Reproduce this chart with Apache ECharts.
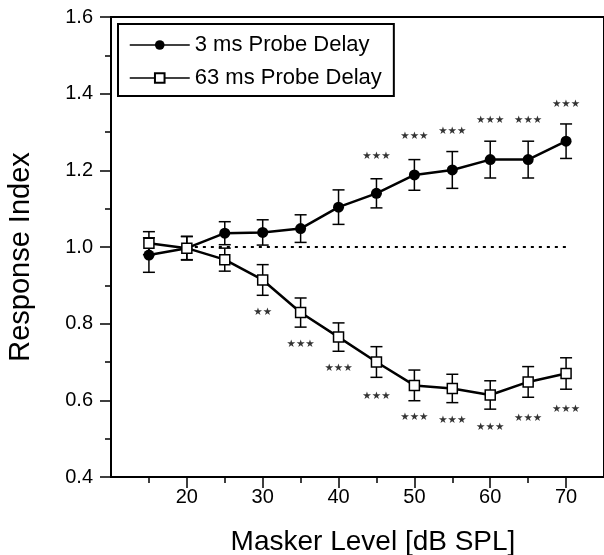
<!DOCTYPE html>
<html>
<head>
<meta charset="utf-8">
<script src="https://cdn.jsdelivr.net/npm/echarts@6/dist/echarts.min.js"></script>
<style>
  html, body { margin: 0; padding: 0; background: #fff; }
  #chart { width: 604px; height: 555px; }
</style>
</head>
<body>
<div id="chart"></div>
<script>
// masker levels (dB SPL)
const levels = [15, 20, 25, 30, 35, 40, 45, 50, 55, 60, 65, 70]

// 3 ms probe delay: mean and error
const delay3 = [0.979, 0.997, 1.036, 1.038, 1.048, 1.104, 1.140, 1.188, 1.201, 1.228, 1.228, 1.276]
const delay3Err = [0.045, 0.031, 0.030, 0.033, 0.036, 0.045, 0.038, 0.040, 0.048, 0.048, 0.048, 0.045]

// 63 ms probe delay: mean and error
const delay63 = [1.010, 0.997, 0.967, 0.914, 0.829, 0.765, 0.700, 0.639, 0.631, 0.614, 0.648, 0.670]
const delay63Err = [0.030, 0.030, 0.030, 0.040, 0.038, 0.037, 0.040, 0.040, 0.037, 0.037, 0.040, 0.041]

// significance marks
const starsUpX = [45, 50, 55, 60, 65, 70]
const starsUpY = [1.236, 1.288, 1.301, 1.330, 1.330, 1.373]
const starsUpText = ['***', '***', '***', '***', '***', '***']
const starsDownX = [30, 35, 40, 45, 50, 55, 60, 65, 70]
const starsDownY = [0.831, 0.745, 0.683, 0.611, 0.557, 0.548, 0.529, 0.552, 0.577]
const starsDownText = ['**', '***', '***', '***', '***', '***', '***', '***', '***']

// reference line at 1.0
const refX = [20, 70]
const refY = [1.0, 1.0]

// ticks
const xMajor = [20, 30, 40, 50, 60, 70]
const xMinor = [15, 25, 35, 45, 55, 65]

const font = '"Liberation Sans", Arial, Helvetica, sans-serif'

function errorBars(ys, errs) {
  return {
    type: 'custom',
    silent: true,
    z: 1,
    encode: { x: 0, y: [1, 2] },
    data: levels.map((x, i) => [x, ys[i] - errs[i], ys[i] + errs[i]]),
    renderItem: function(params, api) {
      const lo = api.coord([api.value(0), api.value(1)])
      const hi = api.coord([api.value(0), api.value(2)])
      const w = 6
      const st = { stroke: '#000', lineWidth: 1.5 }
      return {
        type: 'group',
        children: [
          { type: 'line', shape: { x1: lo[0], y1: lo[1], x2: hi[0], y2: hi[1] }, style: st },
          { type: 'line', shape: { x1: lo[0] - w, y1: lo[1], x2: lo[0] + w, y2: lo[1] }, style: st },
          { type: 'line', shape: { x1: hi[0] - w, y1: hi[1], x2: hi[0] + w, y2: hi[1] }, style: st }
        ]
      }
    }
  }
}

function stars(xs, ys, txt) {
  return {
    type: 'scatter',
    silent: true,
    z: 4,
    symbolSize: 1,
    itemStyle: { color: 'rgba(0,0,0,0)' },
    data: xs.map((x, i) => [x, ys[i], txt[i]]),
    label: {
      show: true,
      position: 'inside',
      formatter: p => p.value[2].replace(/\*/g, '\u2605'),
      fontSize: 10.5,
      fontFamily: '"DejaVu Sans", sans-serif',
      color: '#000'
    }
  }
}

const chart = echarts.init(document.getElementById('chart'))
chart.setOption({
  animation: false,
  backgroundColor: '#fff',
  grid: {
    left: 111,
    right: -3,
    top: 17,
    bottom: 78,
    show: true,
    borderColor: '#000',
    borderWidth: 2,
    backgroundColor: 'transparent'
  },
  legend: {
    orient: 'vertical',
    left: 118,
    top: 24,
    padding: [10, 12, 7, 11],
    itemGap: 11,
    itemWidth: 60,
    itemHeight: 12,
    borderColor: '#000',
    borderWidth: 2,
    backgroundColor: '#fff',
    lineStyle: { width: 1.5 },
    textStyle: { fontFamily: font, fontSize: 22, color: '#000', lineHeight: 22 },
    data: ['3 ms Probe Delay', '63 ms Probe Delay']
  },
  xAxis: [
    {
      type: 'value',
      min: 10,
      max: 75,
      interval: 10,
      axisLine: { show: true, lineStyle: { color: '#000', width: 2 } },
      axisTick: { show: true, customValues: xMajor, length: 11, lineStyle: { color: '#000', width: 1.5 } },
      axisLabel: { customValues: xMajor, margin: 10, fontFamily: font, fontSize: 20, color: '#000' },
      splitLine: { show: false }
    },
    {
      type: 'value',
      min: 10,
      max: 75,
      interval: 10,
      position: 'bottom',
      axisLine: { show: false },
      axisTick: { show: true, customValues: xMinor, length: 6, lineStyle: { color: '#000', width: 1.5 } },
      axisLabel: { show: false },
      splitLine: { show: false }
    }
  ],
  yAxis: {
    type: 'value',
    min: 0.4,
    max: 1.6,
    interval: 0.2,
    axisLine: { show: true, lineStyle: { color: '#000', width: 2 } },
    axisTick: { show: true, length: 11, lineStyle: { color: '#000', width: 1.5 } },
    minorTick: { show: true, splitNumber: 2, length: 6, lineStyle: { color: '#000', width: 1.5 } },
    axisLabel: {
      margin: 18,
      fontFamily: font,
      fontSize: 20,
      color: '#000',
      formatter: v => v.toFixed(1)
    },
    splitLine: { show: false },
    minorSplitLine: { show: false }
  },
  graphic: [
    {
      type: 'text',
      x: 373,
      y: 542,
      style: {
        text: 'Masker Level [dB SPL]',
        font: '28px ' + font,
        fill: '#000',
        textAlign: 'center',
        textVerticalAlign: 'middle'
      }
    },
    {
      type: 'text',
      x: 21,
      y: 257,
      rotation: Math.PI / 2,
      style: {
        text: 'Response Index',
        font: '29px ' + font,
        fill: '#000',
        textAlign: 'center',
        textVerticalAlign: 'middle'
      }
    }
  ],
  series: [
    {
      type: 'line',
      silent: true,
      z: 1,
      symbol: 'none',
      data: refX.map((x, i) => [x, refY[i]]),
      lineStyle: { color: '#000', width: 2, type: [3, 5] }
    },
    errorBars(delay3, delay3Err),
    errorBars(delay63, delay63Err),
    {
      name: '3 ms Probe Delay',
      type: 'line',
      z: 3,
      data: levels.map((x, i) => [x, delay3[i]]),
      symbol: 'circle',
      symbolSize: 11,
      lineStyle: { color: '#000', width: 2.5 },
      itemStyle: { color: '#000' }
    },
    {
      name: '63 ms Probe Delay',
      type: 'line',
      z: 3,
      data: levels.map((x, i) => [x, delay63[i]]),
      symbol: 'rect',
      symbolSize: 10,
      lineStyle: { color: '#000', width: 2.5 },
      itemStyle: { color: '#fff', borderColor: '#000', borderWidth: 1.5 }
    },
    stars(starsUpX, starsUpY, starsUpText),
    stars(starsDownX, starsDownY, starsDownText)
  ]
})
</script>
</body>
</html>
